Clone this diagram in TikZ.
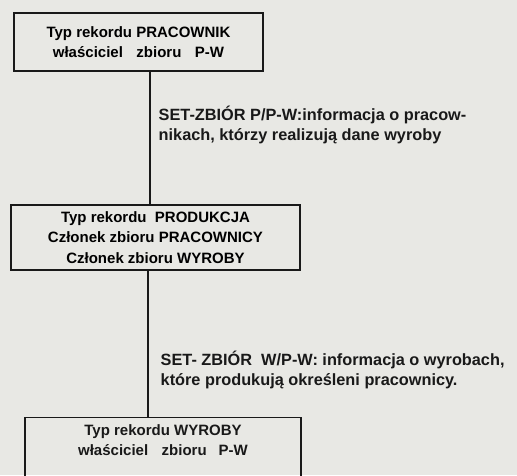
\documentclass[tikz,border=0pt]{standalone}
\usepackage{fontspec}
\setmainfont{Liberation Sans}
\usepackage{xcolor}
\usetikzlibrary{positioning}
\definecolor{papier}{RGB}{232,232,228}
\definecolor{tusz}{RGB}{25,25,25}

\begin{document}
\begin{tikzpicture}[
        x=1pt, y=-1pt,
        % Styles des boîtes
        rec/.style={draw=tusz, line width=1.4pt, align=center,
                    inner sep=0pt, font=\bfseries\fontsize{15}{20.5}\selectfont},
        txt/.style={align=center, text=tusz, inner sep=0pt,
                    font=\bfseries\fontsize{15}{20}\selectfont},
        lab/.style={align=left, text=tusz, inner sep=0pt,
                    font=\bfseries\fontsize{16.3}{20}\selectfont},
        lin/.style={draw=tusz, line width=1.4pt},
    ]
        
        %% ── Fond ──
        \fill[papier] (0,0) rectangle (517,475);
        \useasboundingbox (0,0) rectangle (517,475);
        
        %% ── Boîtes ──
        \node[rec, minimum width=249, minimum height=58] (pracownik) at (138.5, 42)
            {Typ rekordu PRACOWNIK\\właściciel\hspace{0.9em}zbioru\hspace{0.9em}P-W};
        \node[rec, minimum width=289, minimum height=65] (produkcja) at (155.5, 237.5)
            {Typ rekordu \ PRODUKCJA\\Członek zbioru PRACOWNICY\\Członek zbioru WYROBY};
        \node[rec, minimum width=276, minimum height=70, anchor=north] (wyroby) at (163, 417) {};
        \node[txt, below=7pt of wyroby.north] (wyrobytxt)
            {Typ rekordu WYROBY\\właściciel\hspace{0.9em}zbioru\hspace{0.8em}P-W};

        %% ── Liaisons ──
        \draw[lin] (pracownik.south) ++(11.5,0) coordinate (a) -- (a |- produkcja.north)
            node[lab, anchor=west, pos=0.4, xshift=8pt]
            {SET-ZBIÓR P/P-W:informacja o pracow-\\nikach, którzy realizują dane wyroby};
        \draw[lin] (produkcja.south) ++(-7.5,0) coordinate (b) -- (b |- wyroby.north)
            node[lab, anchor=west, pos=0.68, xshift=12pt]
            {SET- ZBIÓR \ W/P-W: informacja o wyrobach,\\które produkują określeni pracownicy.};

    \end{tikzpicture}
\end{document}
